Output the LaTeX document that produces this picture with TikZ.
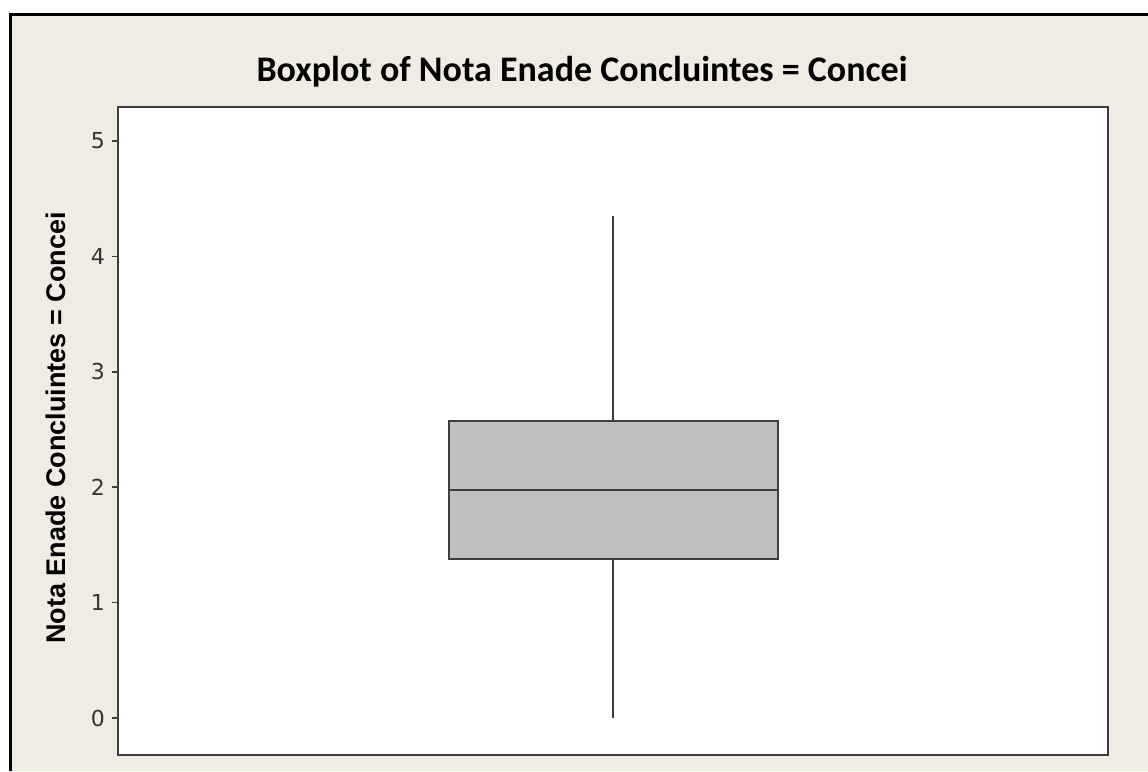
\documentclass[tikz,border=0pt]{standalone}
\usepackage{fontspec}
\setmainfont{DejaVu Sans}
\newfontfamily\titlefont{Carlito}
\newfontfamily\labelfont{Liberation Sans}
\usepackage{xcolor}
\definecolor{paper}{RGB}{240,236,227}
\definecolor{boxgray}{RGB}{192,192,192}
\definecolor{linegray}{RGB}{62,62,62}
\usepackage{tikz}
\usetikzlibrary{positioning}

\begin{document}
\begin{tikzpicture}[x=1pt,y=1pt,
  frame/.style={draw=linegray,line width=2pt},
  boxline/.style={draw=linegray,line width=2pt},
  ticklabel/.style={anchor=east,inner sep=0pt,font=\fontsize{22}{22}\selectfont,text=black!80}]
\useasboundingbox (0,0) rectangle (1148,771);
\fill[white] (0,0) rectangle (1148,771);
\fill[paper] (10,0) rectangle (1148,757);
\draw[black,line width=3pt] (10.5,0) -- (10.5,756.5) -- (1148,756.5);
% plot area
\draw[frame,fill=white] (118,16) rectangle (1108,664);
\node (title) at (582,699) {\titlefont\bfseries\fontsize{36}{36}\selectfont Boxplot of Nota Enade Concluintes = Concei};
\node (ylabel) [rotate=90] at (56,343) {\labelfont\bfseries\fontsize{27}{27}\selectfont Nota Enade Concluintes = Concei};
% data
\begin{scope}[yshift=53pt,y=115.4pt]
\foreach \v in {0,...,5} {
  \draw[linegray,line width=1.5pt] (112,\v) -- (118,\v);
  \node (tick\v) [ticklabel] at (105,\v) {\v};
}
\coordinate (wlow) at (613,0);
\coordinate (whigh) at (613,4.35);
\coordinate (q1) at (613,1.375);
\coordinate (q3) at (613,2.575);
\draw[boxline,fill=boxgray] (449,1.375) rectangle (778,2.575);
\draw[boxline] (449,1.98) -- (778,1.98);
\draw[boxline] (q3) -- (whigh);
\draw[boxline] (q1) -- (wlow);
\end{scope}
\end{tikzpicture}
\end{document}
